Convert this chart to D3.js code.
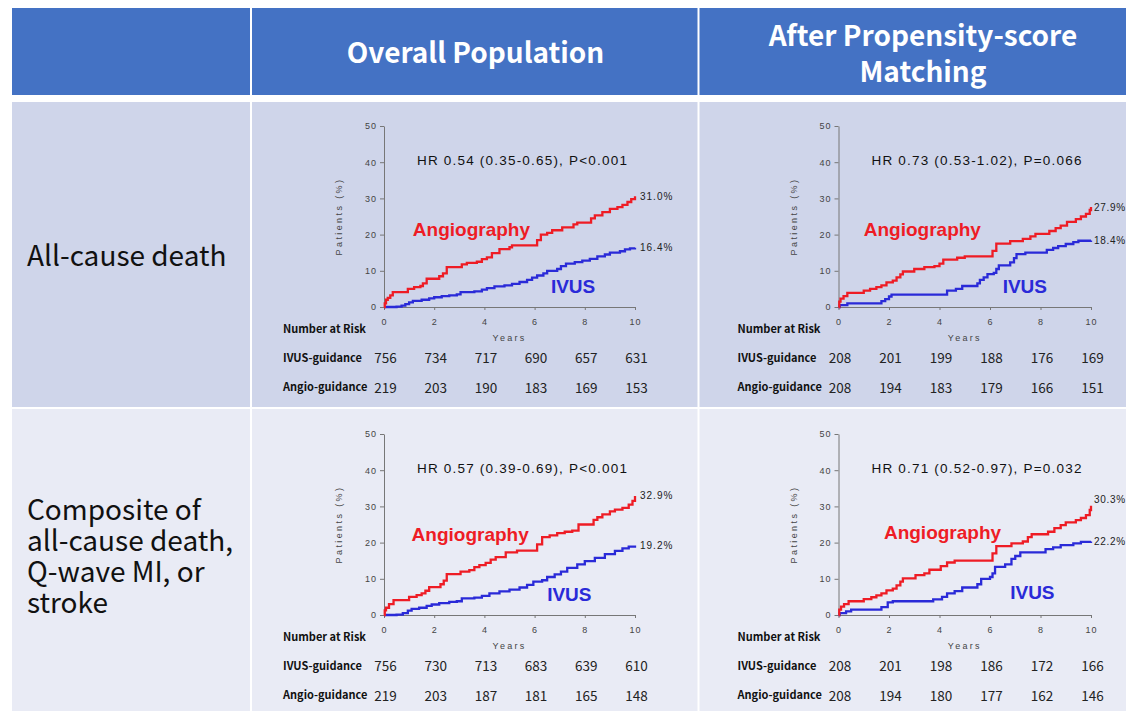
<!DOCTYPE html>
<html>
<head>
<meta charset="utf-8">
<script src="https://cdn.jsdelivr.net/npm/d3@7"></script>
<style>
body { margin: 0; background: #fff; }
svg { display: block; }
</style>
</head>
<body>
<svg width="1126" height="711"></svg>
<script>
// ---- data ----
var colTitles = [['Overall Population'], ['After Propensity-score', 'Matching']];
var rowTitles = [['All-cause death'], ['Composite of', 'all-cause death,', 'Q-wave MI, or', 'stroke']];
var yearTicks = [0, 2, 4, 6, 8, 10];
var pctTicks = [0, 10, 20, 30, 40, 50];
var hrText = [
  'HR 0.54 (0.35-0.65), P<0.001',
  'HR 0.73 (0.53-1.02), P=0.066',
  'HR 0.57 (0.39-0.69), P<0.001',
  'HR 0.71 (0.52-0.97), P=0.032'
];
var angioEnd = ['31.0%', '27.9%', '32.9%', '30.3%'];
var ivusEnd = ['16.4%', '18.4%', '19.2%', '22.2%'];
var riskRowNames = ['IVUS-guidance', 'Angio-guidance'];
var riskIvus = [
  [756, 734, 717, 690, 657, 631],
  [208, 201, 199, 188, 176, 169],
  [756, 730, 713, 683, 639, 610],
  [208, 201, 198, 186, 172, 166]
];
var riskAngio = [
  [219, 203, 190, 183, 169, 153],
  [208, 194, 183, 179, 166, 151],
  [219, 203, 187, 181, 165, 148],
  [208, 194, 180, 177, 162, 146]
];

// cumulative incidence (years, %)
var angioCurves = [
  [[0,0],[0.03,1],[0.08,2],[0.15,2.5],[0.25,3.2],[0.35,4.1],[0.88,4.1],[0.95,5],[1.2,5.5],[1.45,5.8],[1.55,6.5],[1.7,7.8],[2.1,7.8],[2.2,8.5],[2.35,9.3],[2.5,11],[2.95,11],[3.1,11.8],[3.3,12.2],[3.7,12.5],[3.9,13.2],[4.1,13.7],[4.3,14.9],[4.6,16],[5.0,16.5],[5.1,17],[6.0,17],[6.1,18.5],[6.25,20],[6.5,20.5],[6.7,21.2],[7.1,22],[7.4,22],[7.55,22.8],[7.7,23.3],[8.1,23.3],[8.25,24.5],[8.4,25.3],[8.7,26.2],[9.0,27.1],[9.3,27.6],[9.5,28.2],[9.7,29],[9.85,29.8],[10,30.6]],
  [[0,0],[0.03,1.5],[0.08,2.3],[0.2,3],[0.35,3.9],[0.9,3.9],[1.0,4.5],[1.25,5],[1.5,5.5],[1.7,6],[1.9,6.8],[2.15,7.3],[2.3,8.2],[2.45,9],[2.55,9.8],[2.9,9.8],[3.0,10.5],[3.4,11],[3.8,11.3],[4.0,12],[4.15,13.1],[4.6,13.1],[4.7,13.6],[5.0,14],[6.0,14],[6.1,15.5],[6.25,17.5],[6.7,17.5],[6.8,18.2],[7.3,18.8],[7.6,19.5],[7.8,20.2],[8.2,20.2],[8.35,21],[8.6,21.8],[8.8,22.5],[9.05,23.5],[9.4,24.3],[9.6,25],[9.8,25.7],[9.95,26.8],[10,27.6]],
  [[0,0],[0.03,1.3],[0.08,2],[0.2,3],[0.38,4.1],[0.9,4.1],[1.0,5],[1.3,5.5],[1.5,6],[1.65,6.7],[1.8,7.7],[2.1,7.7],[2.25,8.5],[2.38,9.5],[2.5,11.3],[2.9,11.3],[3.05,12],[3.4,12.4],[3.6,13.2],[3.8,13.8],[4.05,14.4],[4.25,15.3],[4.45,16],[4.85,17.3],[5.3,17.8],[6.0,17.8],[6.1,19.5],[6.3,21.5],[6.6,22],[6.9,22.6],[7.2,23],[7.5,23.3],[7.75,25],[8.2,25],[8.35,26.3],[8.5,27],[8.7,27.8],[9.0,28.6],[9.2,29.1],[9.5,29.6],[9.75,30.5],[9.9,31.5],[10,32.9]],
  [[0,0],[0.03,1.5],[0.1,2.3],[0.22,3],[0.4,3.8],[0.9,3.8],[1.0,4.4],[1.3,4.9],[1.5,5.4],[1.7,6],[1.9,6.8],[2.15,7.3],[2.3,8.2],[2.45,9.2],[2.55,10.1],[2.9,10.1],[3.05,11],[3.4,11.5],[3.6,12.5],[3.9,12.5],[4.05,13.5],[4.3,14.5],[4.6,15],[6.0,15],[6.1,17],[6.25,19],[6.7,19],[6.85,19.8],[7.3,20.3],[7.5,21.5],[7.65,22.3],[8.1,22.3],[8.3,23],[8.55,24],[8.8,24.8],[9.0,25.6],[9.4,26.2],[9.6,26.8],[9.8,27.6],[9.95,29],[10,30.2]]
];
var ivusCurves = [
  [[0,0],[0.5,0.1],[0.7,0.4],[0.85,0.8],[1.0,1.3],[1.15,1.7],[1.5,2.0],[1.8,2.4],[2.0,2.7],[2.3,3.0],[2.6,3.2],[2.9,3.5],[3.05,4.1],[3.6,4.3],[3.9,4.8],[4.1,5.2],[4.4,5.7],[4.8,6.0],[5.1,6.4],[5.4,6.9],[5.7,7.5],[5.9,8.1],[6.1,8.7],[6.35,9.3],[6.5,10.0],[6.9,10.5],[7.05,11.3],[7.25,12],[7.6,12.4],[7.9,12.8],[8.2,13.3],[8.5,14],[8.8,14.5],[9.0,15],[9.4,15.4],[9.6,15.9],[9.8,16.2],[10,16.4]],
  [[0,0],[0.05,0.5],[0.35,1.0],[1.6,1.0],[1.7,1.6],[1.85,2.2],[2.0,2.9],[2.1,3.4],[4.2,3.4],[4.3,4.5],[4.65,5],[4.9,5.8],[5.4,5.8],[5.5,6.5],[5.6,7.5],[5.75,8.2],[5.9,9.1],[6.15,9.4],[6.25,10.5],[6.35,11.5],[6.7,11.5],[6.8,12.3],[6.95,13.5],[7.05,14.6],[7.4,15],[8.1,15],[8.25,15.8],[8.5,16.3],[8.7,16.8],[9.0,17.4],[9.3,17.9],[9.5,18.3],[10,18.4]],
  [[0,0],[0.5,0.1],[0.75,0.5],[0.95,1.2],[1.1,1.7],[1.4,2.0],[1.7,2.5],[1.9,2.9],[2.2,3.3],[2.6,3.6],[2.9,3.8],[3.1,4.6],[3.6,4.8],[3.9,5.3],[4.2,6],[4.6,6.5],[5.0,7],[5.4,7.6],[5.7,8.3],[5.95,9.2],[6.3,9.6],[6.5,10.5],[6.8,11.2],[7.05,12],[7.3,13],[7.7,14],[8.0,14.9],[8.4,15.8],[8.8,16.8],[9.2,17.7],[9.5,18.4],[9.75,18.9],[10,19.2]],
  [[0,0],[0.05,0.5],[0.3,1.0],[0.5,1.5],[1.6,1.5],[1.7,2.2],[1.95,3.5],[2.15,3.8],[3.6,3.8],[3.75,4.3],[4.1,5],[4.3,6],[4.6,6.6],[4.9,7.6],[5.4,7.6],[5.5,8.5],[5.65,10],[6.0,10.5],[6.1,11.5],[6.2,13.3],[6.6,14],[6.85,15.5],[7.0,16.3],[7.2,17.3],[8.0,17.3],[8.2,18.2],[8.5,18.7],[8.8,19.3],[9.3,19.8],[9.6,20.2],[10,20.3]]
];

// ---- layout ----
var RED = '#ee1c25', BLUE = '#2a2ad8';
var AXIS_FONT = '"Liberation Sans", Arial, sans-serif';
var KR_FONT = '"Noto Sans CJK KR", "Noto Sans", sans-serif';
var colX = [[384, 635], [838.5, 1091]];
var rowY = [[307, 126], [615, 434]];
var angioLabelAt = [[1.15, 19.6], [1.0, 19.5], [1.1, 20.4], [1.8, 20.9]];
var ivusLabelAt = [[6.65, 3.9], [6.5, 3.8], [6.5, 3.9], [6.8, 4.4]];
var angioEndShift = [0, 0, 0, 1.8];

var svg = d3.select('svg');
svg.append('rect').attr('width', 1126).attr('height', 711).attr('fill', '#fff');

// table cells
var cellCols = [[12, 250], [252, 697.5], [699.5, 1126]];
var cellRows = [[8, 95, '#4472c4'], [102, 407, '#cfd5ea'], [409, 711, '#e9ebf5']];
cellRows.forEach(function(r) {
  cellCols.forEach(function(c) {
    svg.append('rect')
      .attr('x', c[0]).attr('y', r[0])
      .attr('width', c[1] - c[0]).attr('height', r[1] - r[0])
      .attr('fill', r[2]);
  });
});

// header titles (last column runs past the picture edge, so its text sits right of centre)
var titleX = [475.5, 923];
colTitles.forEach(function(lines, i) {
  var base = lines.length === 1 ? 63 : 46;
  lines.forEach(function(t, j) {
    svg.append('text')
      .attr('x', titleX[i]).attr('y', base + j * 36)
      .attr('text-anchor', 'middle')
      .style('font-family', KR_FONT).style('font-weight', 'bold')
      .style('font-size', '28px').attr('fill', '#fff')
      .text(t);
  });
});

// row titles
var rowBase = [266, 520];
rowTitles.forEach(function(lines, i) {
  lines.forEach(function(t, j) {
    svg.append('text')
      .attr('x', 27).attr('y', rowBase[i] + j * 31)
      .style('font-family', KR_FONT)
      .style('font-size', '28px').attr('fill', '#111')
      .text(t);
  });
});

// panels
d3.range(4).forEach(function(i) {
  var r = Math.floor(i / 2), c = i % 2;
  var x = d3.scaleLinear().domain([0, 10]).range(colX[c]);
  var y = d3.scaleLinear().domain([0, 50]).range(rowY[r]);
  var g = svg.append('g');

  var yAxis = g.append('g')
    .attr('transform', 'translate(' + x(0) + ',0)')
    .call(d3.axisLeft(y).tickValues(pctTicks).tickSize(4).tickSizeOuter(0).tickPadding(3));
  var xAxis = g.append('g')
    .attr('transform', 'translate(0,' + y(0) + ')')
    .call(d3.axisBottom(x).tickValues(yearTicks).tickSize(3).tickSizeOuter(0).tickPadding(9));
  [yAxis, xAxis].forEach(function(a) {
    a.selectAll('path, line').attr('stroke', '#777');
    a.selectAll('text')
      .style('font-family', AXIS_FONT).style('font-size', '9px')
      .style('letter-spacing', '1px').attr('fill', '#444');
  });

  // axis titles
  g.append('text')
    .attr('transform', 'translate(' + (x(0) - 42) + ',' + y(25) + ') rotate(-90)')
    .attr('text-anchor', 'middle')
    .style('font-family', AXIS_FONT).style('font-size', '9px')
    .style('letter-spacing', '2.4px').attr('fill', '#444')
    .text('Patients (%)');
  g.append('text')
    .attr('x', x(5)).attr('y', y(0) + 34)
    .attr('text-anchor', 'middle')
    .style('font-family', AXIS_FONT).style('font-size', '9px')
    .style('letter-spacing', '2.3px').attr('fill', '#444')
    .text('Years');

  // HR
  g.append('text')
    .attr('x', x(0) + 33).attr('y', y(39.3))
    .style('font-family', AXIS_FONT).style('font-size', '13.5px')
    .style('letter-spacing', '1.2px').attr('fill', '#111')
    .text(hrText[i]);

  // curves
  var line = d3.line()
    .x(function(d) { return x(d[0]); })
    .y(function(d) { return y(d[1]); })
    .curve(d3.curveStepAfter);
  g.append('path').datum(ivusCurves[i])
    .attr('d', line).attr('fill', 'none')
    .attr('stroke', BLUE).attr('stroke-width', 2.3);
  g.append('path').datum(angioCurves[i])
    .attr('d', line).attr('fill', 'none')
    .attr('stroke', RED).attr('stroke-width', 2.3);

  // end labels
  var aLast = angioCurves[i][angioCurves[i].length - 1];
  var bLast = ivusCurves[i][ivusCurves[i].length - 1];
  [[angioEnd[i], aLast[1] + angioEndShift[i]], [ivusEnd[i], bLast[1]]].forEach(function(d) {
    g.append('text')
      .attr('x', x(10) + (c === 0 ? 5 : 3)).attr('y', y(d[1]) + 3.5)
      .style('font-family', AXIS_FONT).style('font-size', '10px')
      .style('letter-spacing', c === 0 ? '1px' : '0.7px').attr('fill', '#222')
      .text(d[0]);
  });

  // group labels
  g.append('text')
    .attr('x', x(angioLabelAt[i][0])).attr('y', y(angioLabelAt[i][1]))
    .style('font-family', AXIS_FONT).style('font-weight', 'bold')
    .style('font-size', '19px').attr('fill', RED)
    .text('Angiography');
  g.append('text')
    .attr('x', x(ivusLabelAt[i][0])).attr('y', y(ivusLabelAt[i][1]))
    .style('font-family', AXIS_FONT).style('font-weight', 'bold')
    .style('font-size', '19px').attr('fill', BLUE)
    .text('IVUS');

  // number at risk
  var lx = x(0) - 101;
  g.append('text')
    .attr('x', lx).attr('y', y(0) + 26)
    .style('font-family', KR_FONT).style('font-weight', 'bold')
    .style('font-size', '11px').attr('fill', '#111')
    .text('Number at Risk');
  [riskIvus[i], riskAngio[i]].forEach(function(vals, k) {
    var by = y(0) + 54.5 + k * 29.5;
    g.append('text')
      .attr('x', lx).attr('y', by)
      .style('font-family', KR_FONT).style('font-weight', 'bold')
      .style('font-size', '11px').attr('fill', '#111')
      .text(riskRowNames[k]);
    g.selectAll(null).data(vals).enter().append('text')
      .attr('x', function(d, j) { return x(yearTicks[j]) + 1.5; })
      .attr('y', by + 1.5)
      .attr('text-anchor', 'middle')
      .style('font-family', KR_FONT)
      .style('font-size', '13.5px').attr('fill', '#222')
      .text(function(d) { return d; });
  });
});
</script>
</body>
</html>
